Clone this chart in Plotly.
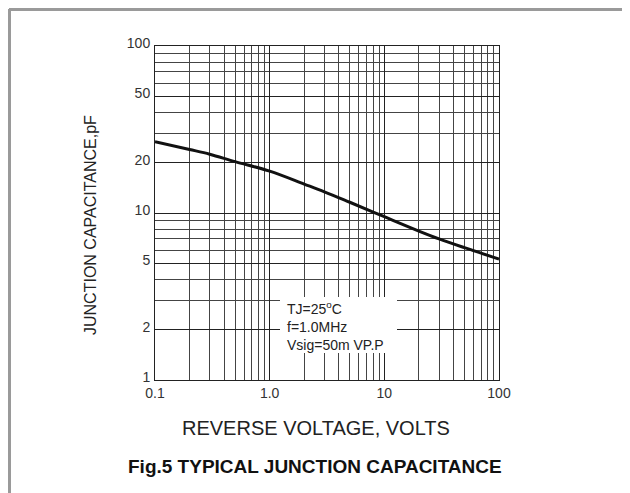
import plotly.graph_objects as go

# ---- data ----
reverse_voltage = [0.1, 0.2, 0.3, 0.5, 1, 2, 3, 5, 10, 20, 30, 50, 100]
capacitance_pf = [26.7, 24.0, 22.5, 20.3, 17.8, 14.9, 13.4, 11.6, 9.5, 7.8, 7.0, 6.2, 5.3]

x_tick_vals = [0.1, 1, 10, 100]
x_tick_text = ["0.1", "1.0", "10", "100"]
x_minor_vals = [0.2, 0.3, 0.4, 0.5, 0.6, 0.7, 0.8, 0.9,
                2, 3, 4, 5, 6, 7, 8, 9,
                20, 30, 40, 50, 60, 70, 80, 90]

y_tick_vals = [1, 2, 5, 10, 20, 50, 100]
y_tick_text = ["1", "2", "5", "10", "20", "50", "100"]
y_minor_vals = [3, 4, 6, 7, 8, 9, 30, 40, 60, 70, 80, 90]

conditions = ["TJ=25<sup>o</sup>C", "f=1.0MHz", "Vsig=50m VP.P"]
x_title = "REVERSE VOLTAGE, VOLTS"
y_title = "JUNCTION CAPACITANCE,pF"
fig_title = "Fig.5 TYPICAL JUNCTION CAPACITANCE"

FONT = "Liberation Sans, Arial, sans-serif"
OFF = 8  # page body margin added by the browser
W, H = 630 - OFF, 493 - OFF
PLOT_L, PLOT_R, PLOT_T, PLOT_B = 155, 499, 46, 380  # in page pixels
L, T = PLOT_L - OFF, PLOT_T - OFF
R, B = W - (PLOT_R - OFF), H - (PLOT_B - OFF)
PW, PH = PLOT_R - PLOT_L, PLOT_B - PLOT_T


def px(x):
    return (x - PLOT_L) / PW


def py(y):
    return (PLOT_B - y) / PH


fig = go.Figure()
fig.add_trace(go.Scatter(
    x=reverse_voltage, y=capacitance_pf, mode="lines",
    line=dict(color="#111111", width=3, shape="spline", smoothing=1.0),
    showlegend=False, hoverinfo="skip"))

fig.update_layout(
    width=W, height=H,
    margin=dict(l=L, r=R, t=T, b=B, autoexpand=False),
    paper_bgcolor="white", plot_bgcolor="white",
    font=dict(family=FONT, size=14, color="#333333"),
    showlegend=False,
)

fig.update_xaxes(
    type="log", range=[-1, 2],
    tickmode="array", tickvals=x_tick_vals, ticktext=x_tick_text,
    showgrid=True, gridcolor="#222222", gridwidth=1,
    minor=dict(tickmode="array", tickvals=x_minor_vals, showgrid=True,
               gridcolor="#444444", gridwidth=1, ticks=""),
    showline=True, linecolor="#222222", linewidth=1, mirror=True,
    ticks="", zeroline=False, tickfont=dict(size=14, color="#333333"),
)
fig.update_yaxes(
    type="log", range=[0, 2],
    tickmode="array", tickvals=y_tick_vals, ticktext=y_tick_text,
    showgrid=True, gridcolor="#222222", gridwidth=1,
    minor=dict(tickmode="array", tickvals=y_minor_vals, showgrid=True,
               gridcolor="#444444", gridwidth=1, ticks=""),
    showline=True, linecolor="#222222", linewidth=1, mirror=True,
    ticks="", zeroline=False, ticklabelshift=-3, ticklabelstandoff=1,
    tickfont=dict(size=14, color="#333333"),
)

# outer frame (top and left edges visible in the reference)
fig.add_shape(type="line", xref="paper", yref="paper",
              x0=px(9), x1=px(640), y0=py(9.5), y1=py(9.5),
              line=dict(color="#9a9a9a", width=3))
fig.add_shape(type="line", xref="paper", yref="paper",
              x0=px(9.5), x1=px(9.5), y0=py(9), y1=py(500),
              line=dict(color="#9a9a9a", width=3))

# white box behind conditions text
fig.add_shape(type="rect", xref="paper", yref="paper", layer="above",
              x0=px(280), x1=px(397), y0=py(353), y1=py(297),
              fillcolor="white", line=dict(width=0))

fig.add_annotation(xref="paper", yref="paper", x=px(285), y=py(326),
                   xanchor="left", yanchor="middle", align="left",
                   text="<br>".join(conditions), showarrow=False,
                   font=dict(family=FONT, size=14, color="#222222"))

fig.add_annotation(xref="paper", yref="paper", x=px(316), y=py(428),
                   xanchor="center", yanchor="middle",
                   text=x_title, showarrow=False,
                   font=dict(family=FONT, size=20, color="#222222"))
fig.add_annotation(xref="paper", yref="paper", x=px(90), y=py(225),
                   xanchor="center", yanchor="middle", textangle=-90,
                   text=y_title, showarrow=False,
                   font=dict(family=FONT, size=16, color="#222222"))
fig.add_annotation(xref="paper", yref="paper", x=px(315), y=py(467),
                   xanchor="center", yanchor="middle",
                   text="<b>" + fig_title + "</b>", showarrow=False,
                   font=dict(family=FONT, size=19, color="#111111"))

fig.write_html("out.html")
